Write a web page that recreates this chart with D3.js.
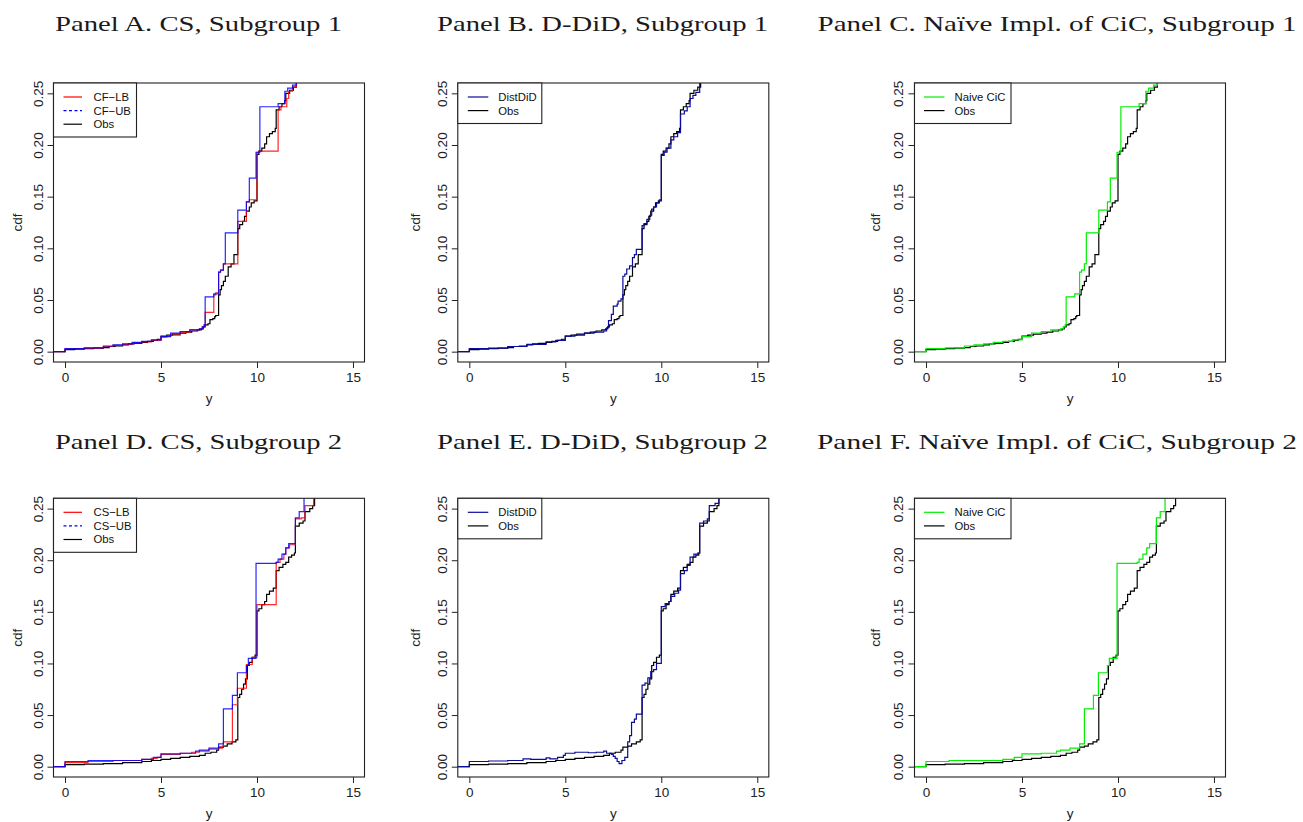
<!DOCTYPE html>
<html>
<head>
<meta charset="utf-8">
<script src="https://cdn.jsdelivr.net/npm/d3@7"></script>
<style>
  html, body { margin: 0; padding: 0; background: #fff; }
  svg { display: block; }
  .tick text { font-family: "Liberation Sans", Arial, sans-serif; }
</style>
</head>
<body>
<svg id="fig" width="1303" height="822"></svg>
<script>
// ---- axis ticks ----
const xTicks = [0, 5, 10, 15];
const yTicks = [0, 0.05, 0.10, 0.15, 0.20, 0.25];
const yTickLabels = ["0.00", "0.05", "0.10", "0.15", "0.20", "0.25"];

// ---- panel titles ----
const panelTitles = [
  "Panel A. CS, Subgroup 1",
  "Panel B. D-DiD, Subgroup 1",
  "Panel C. Naïve Impl. of CiC, Subgroup 1",
  "Panel D. CS, Subgroup 2",
  "Panel E. D-DiD, Subgroup 2",
  "Panel F. Naïve Impl. of CiC, Subgroup 2"
];

// ---- step CDFs: [y value, cdf after the jump] ----
// Subgroup 1
const obs1 = [[-1,0],[0,0.002],[0.5,0.0025],[1.0,0.003],[1.5,0.0035],[2.0,0.004],[2.3,0.005],[2.6,0.0055],[3.0,0.0065],[3.3,0.0075],[3.6,0.008],[4.0,0.009],[4.3,0.010],[4.6,0.011],[4.8,0.012],[5.0,0.015],[5.3,0.016],[5.6,0.017],[6.0,0.018],[6.3,0.019],[6.6,0.020],[6.9,0.021],[7.1,0.022],[7.2,0.024],[7.3,0.026],[7.45,0.027],[7.55,0.031],[7.7,0.032],[7.8,0.034],[7.85,0.035],[8.0,0.055],[8.08,0.060],[8.15,0.064],[8.25,0.068],[8.35,0.073],[8.5,0.082],[8.65,0.085],[8.8,0.094],[9.0,0.119],[9.1,0.123],[9.25,0.126],[9.35,0.131],[9.45,0.136],[9.6,0.140],[9.7,0.144],[9.85,0.146],[10.0,0.191],[10.1,0.194],[10.25,0.197],[10.4,0.201],[10.5,0.208],[10.65,0.211],[10.8,0.213],[10.95,0.216],[11.0,0.234],[11.15,0.237],[11.3,0.240],[11.45,0.243],[11.5,0.250],[11.7,0.253],[11.9,0.256],[12.05,0.3]];
const csLB1 = [[-1,0],[0,0.0028],[1,0.0035],[2,0.005],[2.5,0.006],[3,0.007],[3.5,0.0085],[4,0.0095],[4.5,0.011],[5,0.014],[5.3,0.015],[5.5,0.016],[6.0,0.019],[6.5,0.021],[7.0,0.022],[7.15,0.024],[7.25,0.026],[7.3,0.038],[7.75,0.055],[7.85,0.057],[8.0,0.077],[8.1,0.079],[8.25,0.085],[9.0,0.126],[9.45,0.145],[9.6,0.147],[10.0,0.193],[10.1,0.194],[11.1,0.234],[11.25,0.237],[11.55,0.245],[11.65,0.252],[11.85,0.256],[12.05,0.3]];
const csUB1 = [[-1,0],[0,0.003],[1,0.0037],[2,0.0055],[2.5,0.0065],[3,0.0075],[3.5,0.009],[4,0.010],[4.5,0.0115],[5,0.0145],[5.5,0.018],[6.0,0.0195],[6.5,0.021],[7.0,0.022],[7.15,0.024],[7.25,0.026],[7.3,0.053],[7.75,0.056],[8.0,0.077],[8.1,0.079],[8.25,0.085],[8.35,0.115],[9.0,0.137],[9.45,0.145],[9.6,0.168],[9.95,0.193],[10.15,0.237],[11.1,0.240],[11.45,0.252],[11.6,0.255],[11.85,0.258],[12.05,0.3]];
const distDiD1 = [[-1,0],[0,0.003],[1,0.0035],[2,0.005],[3,0.007],[4,0.0095],[4.5,0.011],[5,0.015],[5.5,0.016],[6,0.018],[6.5,0.019],[7.0,0.020],[7.15,0.023],[7.25,0.030],[7.4,0.036],[7.5,0.044],[7.7,0.046],[7.75,0.049],[7.9,0.051],[8.0,0.073],[8.1,0.075],[8.2,0.080],[8.35,0.083],[8.5,0.091],[8.6,0.094],[8.7,0.099],[9.0,0.122],[9.1,0.124],[9.25,0.128],[9.4,0.132],[9.5,0.138],[9.6,0.140],[9.75,0.144],[9.9,0.147],[10.0,0.190],[10.15,0.193],[10.3,0.197],[10.5,0.205],[10.65,0.208],[10.85,0.212],[11.0,0.230],[11.2,0.233],[11.35,0.237],[11.5,0.245],[11.65,0.248],[11.8,0.251],[12.0,0.3]];
const naiveCiC1 = [[-1,0],[0,0.003],[1,0.0037],[2,0.0055],[2.5,0.0065],[3,0.0075],[3.5,0.009],[4,0.010],[4.5,0.0115],[5,0.0145],[5.5,0.018],[6.0,0.0195],[6.5,0.021],[7.0,0.022],[7.15,0.024],[7.25,0.026],[7.3,0.053],[7.75,0.056],[8.0,0.077],[8.1,0.079],[8.25,0.085],[8.35,0.115],[9.0,0.137],[9.45,0.145],[9.6,0.168],[9.95,0.193],[10.15,0.237],[11.1,0.240],[11.45,0.252],[11.6,0.255],[11.85,0.258],[12.05,0.3]];

// Subgroup 2
const obs2 = [[-1,0],[0,0.002],[1,0.0025],[2,0.003],[3,0.004],[4,0.005],[4.5,0.006],[5,0.007],[5.5,0.008],[6,0.009],[6.5,0.010],[7,0.011],[7.3,0.013],[7.6,0.014],[7.9,0.016],[8.0,0.019],[8.25,0.020],[8.45,0.022],[8.7,0.024],[8.9,0.026],[9.0,0.067],[9.1,0.070],[9.2,0.075],[9.3,0.080],[9.4,0.085],[9.5,0.098],[9.6,0.101],[9.75,0.106],[9.9,0.108],[10.0,0.151],[10.1,0.153],[10.25,0.157],[10.4,0.160],[10.5,0.167],[10.65,0.170],[10.85,0.173],[11.0,0.190],[11.15,0.193],[11.35,0.196],[11.5,0.198],[11.65,0.203],[11.8,0.205],[11.95,0.207],[12.0,0.233],[12.2,0.236],[12.4,0.238],[12.5,0.247],[12.75,0.250],[12.9,0.253],[13.0,0.3]];
const csLB2 = [[-1,0],[0,0.004],[1.2,0.005],[2.5,0.006],[4,0.007],[4.5,0.008],[4.8,0.009],[5,0.012],[6,0.013],[6.6,0.014],[7,0.015],[7.5,0.017],[8.0,0.018],[8.2,0.020],[8.25,0.024],[8.72,0.060],[8.98,0.076],[9.45,0.099],[9.75,0.106],[10.0,0.157],[11.0,0.198],[11.2,0.201],[11.4,0.206],[11.5,0.212],[11.7,0.215],[12.0,0.240],[12.3,0.241],[12.5,0.253],[12.95,0.3]];
const csUB2 = [[-1,0],[0,0.005],[1.2,0.006],[4,0.007],[4.6,0.009],[5,0.0125],[6,0.013],[6.8,0.015],[7,0.016],[7.5,0.018],[8.0,0.022],[8.25,0.056],[8.72,0.069],[8.98,0.091],[9.45,0.098],[9.55,0.105],[9.95,0.197],[11.0,0.198],[11.1,0.201],[11.3,0.206],[11.5,0.212],[11.65,0.216],[12.0,0.241],[12.2,0.247],[12.45,0.3]];
const distDiD2 = [[-1,0],[0,0.005],[1,0.0055],[2,0.006],[2.8,0.0075],[3.2,0.007],[4,0.0085],[4.2,0.0075],[4.6,0.009],[4.9,0.011],[5.0,0.013],[5.5,0.014],[6.2,0.0135],[6.6,0.014],[7.0,0.015],[7.15,0.013],[7.4,0.012],[7.5,0.010],[7.6,0.008],[7.7,0.005],[7.8,0.003],[7.95,0.006],[8.1,0.009],[8.25,0.024],[8.35,0.030],[8.45,0.043],[8.6,0.046],[8.7,0.051],[9.0,0.079],[9.15,0.081],[9.3,0.086],[9.45,0.092],[9.6,0.094],[9.75,0.100],[10.0,0.155],[10.2,0.158],[10.4,0.160],[10.5,0.165],[10.7,0.168],[10.9,0.171],[11.0,0.187],[11.2,0.190],[11.35,0.195],[11.5,0.203],[11.7,0.206],[11.9,0.207],[12.0,0.236],[12.2,0.238],[12.4,0.240],[12.5,0.253],[12.8,0.255],[13.0,0.3]];
const naiveCiC2 = [[-1,0],[0,0.005],[1.2,0.006],[4,0.007],[4.6,0.009],[5,0.0125],[6,0.013],[6.8,0.015],[7,0.016],[7.5,0.018],[8.0,0.022],[8.25,0.056],[8.72,0.069],[8.98,0.091],[9.45,0.098],[9.55,0.105],[9.95,0.197],[11.0,0.198],[11.1,0.201],[11.3,0.206],[11.5,0.212],[11.65,0.216],[12.0,0.241],[12.2,0.247],[12.45,0.3]];

// ---- colours ----
const RED = "#ff0000", BLUE = "#0000ff", NAVY = "#0a0a9c", GREEN = "#00ee00", BLACK = "#000000";

// ---- layout ----
const cols = [
  { left: 53.5, right: 364.5, tickLab: -10.6, cdfX: -32, legW: 83, legLine: [10, 28.5], legText: 40, titleX: 198.5 },
  { left: 457.8, right: 768.8, tickLab: -11.2, cdfX: -38, legW: 84, legLine: [10, 30.5], legText: 40.5, titleX: 602.5 },
  { left: 914.5, right: 1225.5, tickLab: -11.8, cdfX: -34.5, legW: 96.5, legLine: [9.5, 30], legText: 40, titleX: 1057 }
];
const rows = [
  { top: 83, bottom: 362, titleY: 30.5 },
  { top: 498.3, bottom: 777, titleY: 449.3 }
];
const titleWidths = [287, 331, 479, 287, 331, 480];

const panels = [
  { c: 0, r: 0, series: [
      { d: obs1, col: BLACK, lab: "Obs" }, { d: csLB1, col: RED, lab: "CF\u2212LB" }, { d: csUB1, col: BLUE, lab: "CF\u2212UB", dash: true }],
    legendOrder: [1, 2, 0] },
  { c: 1, r: 0, series: [
      { d: obs1, col: BLACK, lab: "Obs" }, { d: distDiD1, col: NAVY, lab: "DistDiD" }],
    legendOrder: [1, 0] },
  { c: 2, r: 0, series: [
      { d: obs1, col: BLACK, lab: "Obs" }, { d: naiveCiC1, col: GREEN, lab: "Naive CiC" }],
    legendOrder: [1, 0] },
  { c: 0, r: 1, series: [
      { d: obs2, col: BLACK, lab: "Obs" }, { d: csLB2, col: RED, lab: "CS\u2212LB" }, { d: csUB2, col: BLUE, lab: "CS\u2212UB", dash: true }],
    legendOrder: [1, 2, 0] },
  { c: 1, r: 1, series: [
      { d: obs2, col: BLACK, lab: "Obs" }, { d: distDiD2, col: NAVY, lab: "DistDiD" }],
    legendOrder: [1, 0] },
  { c: 2, r: 1, series: [
      { d: obs2, col: BLACK, lab: "Obs" }, { d: naiveCiC2, col: GREEN, lab: "Naive CiC" }],
    legendOrder: [1, 0] }
];

const svg = d3.select("#fig");
const SANS = "'Liberation Sans', Arial, Helvetica, sans-serif";
const SERIF = "'Liberation Serif', 'Times New Roman', serif";

panels.forEach((p, i) => {
  const C = cols[p.c], R = rows[p.r];
  const x = d3.scaleLinear().domain([-0.6, 15.6]).range([C.left, C.right]);
  const y = d3.scaleLinear().domain([-0.01, 0.26]).range([R.bottom, R.top]);
  const g = svg.append("g");

  // title, widened like Computer Modern
  svg.append("text")
    .attr("x", C.titleX).attr("y", R.titleY)
    .attr("text-anchor", "middle")
    .attr("font-family", SERIF).attr("font-size", 22)
    .attr("fill", "#1a1a1a")
    .attr("textLength", titleWidths[i]).attr("lengthAdjust", "spacingAndGlyphs")
    .text(panelTitles[i]);

  // clip region
  const clipId = "clip" + i;
  svg.append("clipPath").attr("id", clipId)
    .append("rect").attr("x", C.left).attr("y", R.top)
    .attr("width", C.right - C.left).attr("height", R.bottom - R.top);

  // step curves
  const line = d3.line().x(d => x(d[0])).y(d => y(d[1])).curve(d3.curveStepAfter);
  const lines = g.append("g").attr("clip-path", `url(#${clipId})`);
  p.series.forEach(s => {
    lines.append("path").datum(s.d)
      .attr("d", line)
      .attr("fill", "none")
      .attr("stroke", s.col)
      .attr("stroke-width", 1.2)
      .attr("stroke-opacity", (s.col === RED || s.col === BLUE) ? 0.85 : 1);
  });

  // x axis
  const xa = g.append("g").attr("transform", `translate(0,${R.bottom})`)
    .call(d3.axisBottom(x).tickValues(xTicks).tickFormat(d3.format("d")).tickSize(6).tickPadding(4.8));
  xa.select(".domain").remove();
  xa.selectAll("line").attr("stroke", "#222");
  xa.selectAll("text").attr("font-size", 13.5).attr("font-family", SANS).attr("fill", "#222");

  // y axis with labels parallel to the axis
  const ya = g.append("g").attr("transform", `translate(${C.left},0)`)
    .call(d3.axisLeft(y).tickValues(yTicks).tickFormat((d, k) => yTickLabels[k]).tickSize(6));
  ya.select(".domain").remove();
  ya.selectAll("line").attr("stroke", "#222");
  ya.selectAll("text")
    .attr("font-size", 13.5).attr("font-family", SANS).attr("fill", "#222")
    .attr("transform", "rotate(-90)")
    .attr("text-anchor", "middle")
    .attr("x", 0).attr("y", C.tickLab).attr("dy", null);

  // plot frame
  g.append("rect").attr("x", C.left).attr("y", R.top)
    .attr("width", C.right - C.left).attr("height", R.bottom - R.top)
    .attr("fill", "none").attr("stroke", "#222").attr("stroke-width", 1.1);

  // axis titles
  g.append("text")
    .attr("x", (C.left + C.right) / 2).attr("y", R.bottom + 41)
    .attr("text-anchor", "middle").attr("font-family", SANS).attr("font-size", 13.5).attr("fill", "#222")
    .text("y");
  g.append("text")
    .attr("transform", `translate(${C.left + C.cdfX},${(R.top + R.bottom) / 2}) rotate(-90)`)
    .attr("text-anchor", "middle").attr("font-family", SANS).attr("font-size", 13.5).attr("fill", "#222")
    .text("cdf");

  // legend
  const nRow = p.legendOrder.length;
  const legH = nRow === 3 ? 54 : 40.5;
  const lg = g.append("g").attr("transform", `translate(${C.left},${R.top})`);
  lg.append("rect").attr("x", 0).attr("y", 0).attr("width", C.legW).attr("height", legH)
    .attr("fill", "#fff").attr("stroke", "#222").attr("stroke-width", 1.1);
  p.legendOrder.forEach((k, j) => {
    const s = p.series[k];
    const yy = 14 + j * 13.6;
    lg.append("line")
      .attr("x1", C.legLine[0]).attr("x2", C.legLine[1])
      .attr("y1", yy).attr("y2", yy)
      .attr("stroke", s.col).attr("stroke-width", 1.2)
      .attr("stroke-dasharray", s.dash ? "3,2.5" : null);
    lg.append("text")
      .attr("x", C.legText).attr("y", yy + 4)
      .attr("font-family", SANS).attr("font-size", 11.3).attr("fill", "#111")
      .text(s.lab);
  });
});
</script>
</body>
</html>
